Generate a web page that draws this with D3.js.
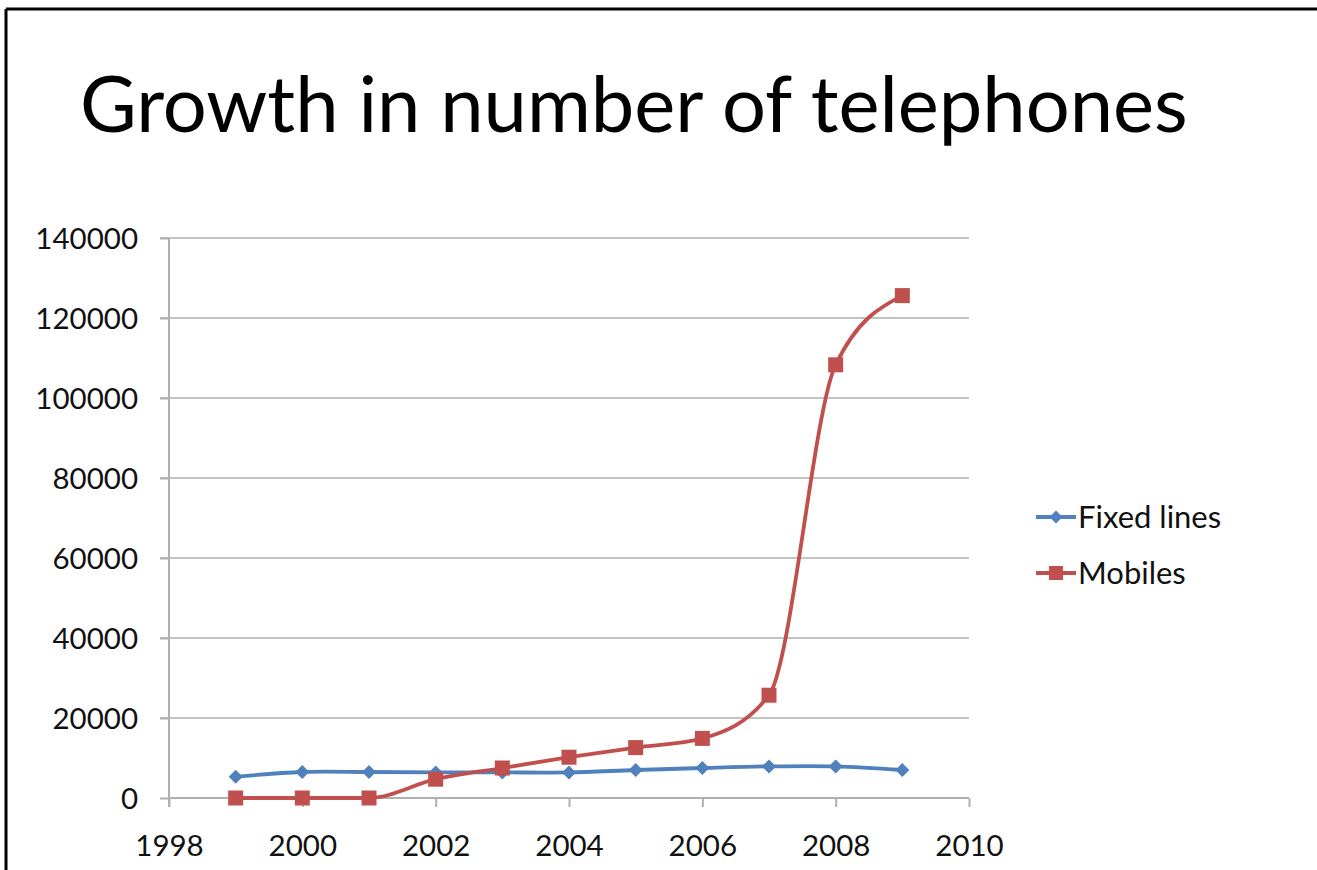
<!DOCTYPE html>
<html>
<head>
<meta charset="utf-8">
<script src="https://cdn.jsdelivr.net/npm/d3@7"></script>
<style>
  html, body { margin: 0; padding: 0; background: #fff; }
  svg { display: block; }
  text { font-family: Lato, "Open Sans", sans-serif; }
</style>
</head>
<body>
<svg id="chart" width="1317" height="870"></svg>
<script>
const years = [1999, 2000, 2001, 2002, 2003, 2004, 2005, 2006, 2007, 2008, 2009];
const fixedLines = [5300, 6500, 6500, 6400, 6400, 6400, 7000, 7500, 7900, 7900, 7000];
const mobiles = [0, 0, 0, 4700, 7500, 10200, 12600, 14900, 25700, 108300, 125600];
const seriesNames = ["Fixed lines", "Mobiles"];
const xTicks = [1998, 2000, 2002, 2004, 2006, 2008, 2010];
const yTicks = [0, 20000, 40000, 60000, 80000, 100000, 120000, 140000];
const titleText = "Growth in number of telephones";

const svg = d3.select("#chart");
const blue = "#4f81bd", red = "#c0504d";
const gridColor = "#c3c3c3";

// frame (top and left border)
svg.append("line").attr("x1", 6).attr("x2", 1317).attr("y1", 9).attr("y2", 9)
  .attr("stroke", "#000").attr("stroke-width", 3);
svg.append("line").attr("x1", 6).attr("x2", 6).attr("y1", 9).attr("y2", 870)
  .attr("stroke", "#000").attr("stroke-width", 3);

// title
const title = svg.append("text").attr("x", 80).attr("y", 132)
  .attr("font-size", 75).attr("fill", "#000").text(titleText);
const tw = title.node().getComputedTextLength();
title.attr("font-size", 75 * 1108 / tw);

const x = d3.scaleLinear().domain([1998, 2010]).range([169, 969]);
const y = d3.scaleLinear().domain([0, 140000]).range([798, 238]);

// gridlines
svg.append("g").selectAll("line").data(yTicks.filter(d => d > 0)).join("line")
  .attr("x1", x(1998) - 9).attr("x2", x(2010))
  .attr("y1", d => y(d)).attr("y2", d => y(d))
  .attr("stroke", gridColor).attr("stroke-width", 2);

// y axis
const yAxis = svg.append("g").attr("transform", `translate(${x(1998)},0)`)
  .call(d3.axisLeft(y).tickValues(yTicks).tickSize(9).tickPadding(22).tickFormat(d3.format("d")));
// x axis
const xAxis = svg.append("g").attr("transform", `translate(0,${y(0)})`)
  .call(d3.axisBottom(x).tickValues(xTicks).tickSize(9).tickPadding(38).tickFormat(d3.format("d")));

[yAxis, xAxis].forEach(g => {
  g.select(".domain").attr("stroke", "#b0b0b0").attr("stroke-width", 2);
  g.selectAll(".tick line").attr("stroke", "#b0b0b0").attr("stroke-width", 2);
  g.selectAll(".tick text").attr("font-size", 29.5).attr("fill", "#111")
    .attr("font-family", "Lato, 'Open Sans', sans-serif");
});
xAxis.select(".domain").attr("d", `M${x(1998)},0H${x(2010)}`);
yAxis.select(".domain").attr("d", `M0,${y(140000)}V${y(0) + 9}`);
xAxis.selectAll(".tick text").attr("dy", "0.36em");
yAxis.selectAll(".tick text").attr("dy", "0.36em");

const line = d3.line().x((d, i) => x(years[i])).y(d => y(d)).curve(d3.curveMonotoneX);
const smooth = d3.line().x((d, i) => x(years[i])).y(d => y(d)).curve(d3.curveCatmullRom.alpha(0.5));

// series
const fixedG = svg.append("g");
fixedG.append("path").datum(fixedLines).attr("d", smooth)
  .attr("fill", "none").attr("stroke", blue).attr("stroke-width", 3.8);
const mobG = svg.append("g");
mobG.append("path").datum(mobiles).attr("d", line)
  .attr("fill", "none").attr("stroke", red).attr("stroke-width", 3.8);

const diamond = (cx, cy, r) => `M${cx},${cy - r}L${cx + r},${cy}L${cx},${cy + r}L${cx - r},${cy}Z`;
fixedG.selectAll("path.m").data(fixedLines).join("path").attr("class", "m")
  .attr("d", (d, i) => diamond(x(years[i]), y(d), 7)).attr("fill", blue);
mobG.selectAll("rect").data(mobiles).join("rect")
  .attr("x", (d, i) => x(years[i]) - 7.5).attr("y", d => y(d) - 7.5)
  .attr("width", 15).attr("height", 15).attr("fill", red);

// legend
const legend = svg.append("g");
const legendY = [517, 573];
seriesNames.forEach((name, i) => {
  const c = i === 0 ? blue : red;
  const ly = legendY[i];
  legend.append("line").attr("x1", 1036).attr("x2", 1076).attr("y1", ly).attr("y2", ly)
    .attr("stroke", c).attr("stroke-width", 3.8);
  if (i === 0) legend.append("path").attr("d", diamond(1056, ly, 6.5)).attr("fill", c);
  else legend.append("rect").attr("x", 1049).attr("y", ly - 7).attr("width", 14).attr("height", 14).attr("fill", c);
  legend.append("text").attr("x", 1078).attr("y", ly).attr("dy", "0.36em")
    .attr("font-size", 31).attr("fill", "#111").text(name);
});
</script>
</body>
</html>
